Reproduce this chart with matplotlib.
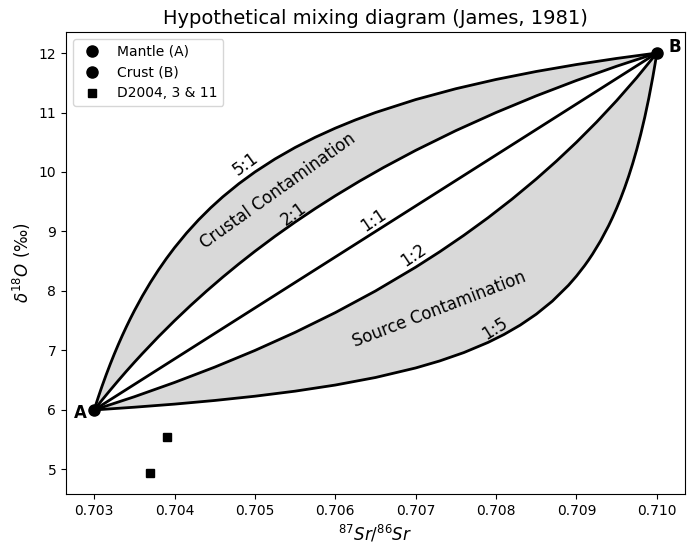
import matplotlib
matplotlib.use("Agg")
import matplotlib.pyplot as plt

# end members
mantle = (0.703, 6.0)
crust = (0.710, 12.0)

# D2004 samples 3 & 11
sample_sr = [0.70369, 0.70391]
sample_o = [4.94, 5.54]

# mixing curves (87Sr/86Sr, d18O)
sr_5to1 = [0.7030, 0.70301, 0.70302, 0.70305, 0.70308, 0.7031, 0.70315, 0.7032,
           0.70325, 0.7033, 0.70335, 0.7034, 0.70345, 0.7035, 0.7036, 0.7037,
           0.7038, 0.7039, 0.7040, 0.70415, 0.7043, 0.70445, 0.7046, 0.7048,
           0.7050, 0.70525, 0.7055, 0.70575, 0.7060, 0.70625, 0.7065, 0.7070,
           0.7075, 0.7080, 0.7085, 0.7090, 0.7095, 0.7100]
o_5to1 = [6.0, 6.0426, 6.0847, 6.2083, 6.3279, 6.4054, 6.5921, 6.7692,
          6.9375, 7.0976, 7.25, 7.3953, 7.5341, 7.6667, 7.9149, 8.1429,
          8.3529, 8.5472, 8.7273, 8.9741, 9.1967, 9.3984, 9.5821, 9.8028,
          10.0, 10.2188, 10.4118, 10.5833, 10.7368, 10.875, 11.0, 11.2174,
          11.4, 11.5556, 11.6897, 11.8065, 11.9091, 12.0]

sr_2to1 = [0.7030, 0.7031, 0.7032, 0.7033, 0.7034, 0.7035, 0.7036, 0.7038,
           0.7040, 0.7042, 0.7044, 0.7046, 0.7048, 0.7050, 0.70525, 0.7055,
           0.70575, 0.7060, 0.7063, 0.7066, 0.7070, 0.7075, 0.7080, 0.7085,
           0.7090, 0.7095, 0.7100]
o_2to1 = [6.0, 6.169, 6.333, 6.493, 6.649, 6.8, 6.947, 7.231,
          7.5, 7.7561, 8.0, 8.2326, 8.4545, 8.6667, 8.9189, 9.1579,
          9.3846, 9.6, 9.8447, 10.0755, 10.3636, 10.6957, 11.0, 11.28,
          11.5385, 11.7778, 12.0]

sr_1to1 = [0.703, 0.710]
o_1to1 = [6.0, 12.0]

sr_1to2 = [0.7030, 0.7035, 0.7040, 0.7045, 0.7050, 0.7055, 0.7060, 0.7065,
           0.7070, 0.7073, 0.7076, 0.7079, 0.7082, 0.7085, 0.70875, 0.7090,
           0.70925, 0.7095, 0.70975, 0.7100]
o_1to2 = [6.0, 6.222, 6.462, 6.72, 7.0, 7.3043, 7.6364, 8.0,
          8.4, 8.6598, 8.9362, 9.2308, 9.5455, 9.8824, 10.1818, 10.5,
          10.8387, 11.2, 11.5862, 12.0]

sr_1to5 = [0.7030, 0.7035, 0.7040, 0.7045, 0.7050, 0.7055, 0.7060, 0.7065,
           0.7070, 0.7073, 0.7076, 0.7079, 0.7081, 0.7083, 0.7085, 0.7087,
           0.7089, 0.7090, 0.7091, 0.70915, 0.7092, 0.7093, 0.7094, 0.70945,
           0.7095, 0.70955, 0.7096, 0.70965, 0.7097, 0.70975, 0.7098, 0.70985,
           0.7099, 0.70995, 0.70998, 0.7100]
o_1to5 = [6.0, 6.046, 6.098, 6.1593, 6.2308, 6.3158, 6.4186, 6.5455,
          6.7059, 6.8243, 6.9650, 7.1351, 7.2697, 7.4260, 7.6098, 7.8289,
          8.0947, 8.25, 8.4238, 8.5187, 8.6197, 8.8421, 9.0968, 9.2385,
          9.3913, 9.5566, 9.7358, 9.931, 10.1443, 10.3784, 10.6364, 10.9222,
          11.2405, 11.5973, 11.8329, 12.0]

fig = plt.figure(figsize=(6.94, 5.55), dpi=100)
ax = fig.add_axes([0.0951, 0.1099, 0.8919, 0.8324])

shade = "#d9d9d9"
# shaded fields
ax.fill(sr_5to1 + sr_2to1[::-1], o_5to1 + o_2to1[::-1], color=shade, lw=0)
ax.fill(sr_1to2 + sr_1to5[::-1], o_1to2 + o_1to5[::-1], color=shade, lw=0)

ax.plot(sr_5to1, o_5to1, color="black", lw=2)
ax.plot(sr_2to1, o_2to1, color="black", lw=2)
ax.plot(sr_1to1, o_1to1, color="black", lw=2)
ax.plot(sr_1to2, o_1to2, color="black", lw=2)
ax.plot(sr_1to5, o_1to5, color="black", lw=2)

ax.plot(*mantle, "o", color="black", ms=8, label="Mantle (A)")
ax.plot(*crust, "o", color="black", ms=8, label="Crust (B)")
ax.plot(sample_sr, sample_o, "s", color="black", ms=6, ls="none", label="D2004, 3 & 11")

ax.text(0.702826, 5.95, "A", fontsize=12, fontweight="bold", ha="center", va="center")
ax.text(0.710223, 12.1, "B", fontsize=12, fontweight="bold", ha="center", va="center")

# curve labels
ax.text(0.704887, 10.14, "5:1", fontsize=12, rotation=36, ha="center", va="center")
ax.text(0.705486, 9.30, "2:1", fontsize=12, rotation=36, ha="center", va="center")
ax.text(0.70648, 9.185, "1:1", fontsize=12, rotation=34, ha="center", va="center")
ax.text(0.706976, 8.597, "1:2", fontsize=12, rotation=34, ha="center", va="center")
ax.text(0.707989, 7.363, "1:5", fontsize=12, rotation=32, ha="center", va="center")
ax.text(0.70528, 9.68, "Crustal Contamination", fontsize=12, rotation=35.5,
        ha="center", va="center")
ax.text(0.707294, 7.70, "Source Contamination", fontsize=12, rotation=21,
        ha="center", va="center")

ax.set_xticks([0.703, 0.704, 0.705, 0.706, 0.707, 0.708, 0.709, 0.710])
ax.set_xticklabels(["0.703", "0.704", "0.705", "0.706", "0.707", "0.708", "0.709", "0.710"])
ax.set_title("Hypothetical mixing diagram (James, 1981)", fontsize=14)
ax.set_xlabel("$^{87}Sr/^{86}Sr$", fontsize=12)
ax.set_ylabel("$\\delta^{18}O$ (‰)", fontsize=12)
ax.legend(loc="upper left")

fig.savefig("out.png", dpi=100)
